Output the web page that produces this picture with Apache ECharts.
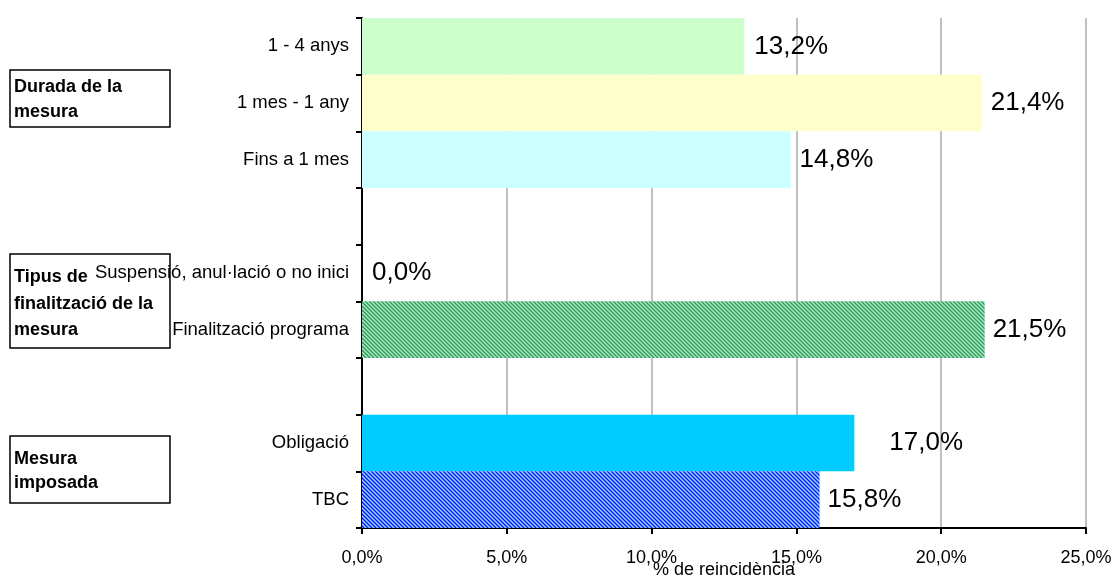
<!DOCTYPE html>
<html>
<head>
<meta charset="utf-8">
<script src="https://cdn.jsdelivr.net/npm/echarts@6/dist/echarts.min.js"></script>
<style>
  html, body { margin: 0; padding: 0; background: #ffffff; }
  #chart { width: 1114px; height: 579px; }
</style>
</head>
<body>
<div id="chart"></div>
<script>
// ---- Data ----
const categories = ['1 - 4 anys', '1 mes - 1 any', 'Fins a 1 mes', ' ', 'Suspensió, anul·lació o no inici', 'Finalització programa', '  ', 'Obligació', 'TBC'];
const values = [13.2, 21.4, 14.8, null, 0.0, 21.5, null, 17.0, 15.8];
const xTicks = { min: 0, max: 25, interval: 5 };
const groupTitles = ['Durada de la\nmesura', 'Tipus de\nfinalització de la\nmesura', 'Mesura\nimposada'];
const axisTitle = '% de reincidència';

// ---- Styles ----
function stripePattern(shades) {
  const c = document.createElement('canvas');
  c.width = 4; c.height = 4;
  const ctx = c.getContext('2d');
  for (let y = 0; y < 4; y++) {
    for (let x = 0; x < 4; x++) {
      ctx.fillStyle = shades[((x - y) % 4 + 4) % 4];
      ctx.fillRect(x, y, 1, 1);
    }
  }
  return { image: c, repeat: 'repeat' };
}
const greenStripes = stripePattern(['#339966', '#6cc08c', '#aeeebe', '#6cc08c']);
const blueStripes = stripePattern(['#0a1aff', '#4d7cff', '#a0d0ff', '#4d7cff']);
const barColors = ['#CCFFCC', '#FFFFCC', '#CCFFFF', null, '#00CCFF', greenStripes, null, '#00CCFF', blueStripes];
const labelDistances = [10, 9, 9, 0, 10, 8, 0, 35, 8];

const fmt = v => v.toFixed(1).replace('.', ',') + '%';
const FONT = 'Liberation Sans, Arial, sans-serif';

const chart = echarts.init(document.getElementById('chart'), null, { renderer: 'canvas' });
chart.setOption({
  animation: false,
  backgroundColor: '#ffffff',
  grid: { left: 362, right: 28, top: 18, bottom: 51, containLabel: false, outerBoundsMode: 'none' },
  xAxis: {
    type: 'value',
    min: xTicks.min, max: xTicks.max, interval: xTicks.interval,
    axisLine: { show: true, lineStyle: { color: '#000', width: 2 } },
    axisTick: { show: true, length: 6, lineStyle: { color: '#000', width: 2 } },
    axisLabel: { margin: 21, color: '#000', fontSize: 18, fontFamily: FONT,
      formatter: v => fmt(v) },
    splitLine: { show: true, lineStyle: { color: '#c0c0c0', width: 2 } },
    name: axisTitle, nameLocation: 'middle', nameGap: 33, nameMoveOverlap: false,
    nameTextStyle: { color: '#000', fontSize: 18, fontFamily: FONT }
  },
  yAxis: {
    type: 'category',
    data: categories,
    inverse: true,
    axisLine: { show: true, lineStyle: { color: '#000', width: 2 } },
    axisTick: { show: true, length: 6, inside: false, lineStyle: { color: '#000', width: 2 } },
    axisLabel: { margin: 13, color: '#000', fontSize: 18.5, fontFamily: FONT, interval: 0 },
    splitLine: { show: false }
  },
  graphic: [
    { type: 'rect', shape: { x: 10, y: 70, width: 160, height: 57 }, style: { fill: 'transparent', stroke: '#000', lineWidth: 1.5 }, z: 1 },
    { type: 'text', x: 14, y: 75, style: { text: groupTitles[0], font: 'bold 18px ' + FONT, lineHeight: 25, fill: '#000' }, z: 1 },
    { type: 'rect', shape: { x: 10, y: 254, width: 160, height: 94 }, style: { fill: 'transparent', stroke: '#000', lineWidth: 1.5 }, z: 1 },
    { type: 'text', x: 14, y: 264, style: { text: groupTitles[1], font: 'bold 18px ' + FONT, lineHeight: 26.5, fill: '#000' }, z: 1 },
    { type: 'rect', shape: { x: 10, y: 436, width: 160, height: 67 }, style: { fill: 'transparent', stroke: '#000', lineWidth: 1.5 }, z: 1 },
    { type: 'text', x: 14, y: 447, style: { text: groupTitles[2], font: 'bold 18px ' + FONT, lineHeight: 24, fill: '#000' }, z: 1 }
  ],
  series: [{
    type: 'bar',
    barCategoryGap: 0,
    barWidth: '100%',
    data: values.map((v, i) => v === null ? null : ({
      value: v,
      itemStyle: { color: barColors[i] },
      label: { distance: labelDistances[i] }
    })),
    label: {
      show: true, position: 'right', color: '#000', fontSize: 26, fontFamily: FONT,
      formatter: p => fmt(p.value)
    }
  }]
});
</script>
</body>
</html>
